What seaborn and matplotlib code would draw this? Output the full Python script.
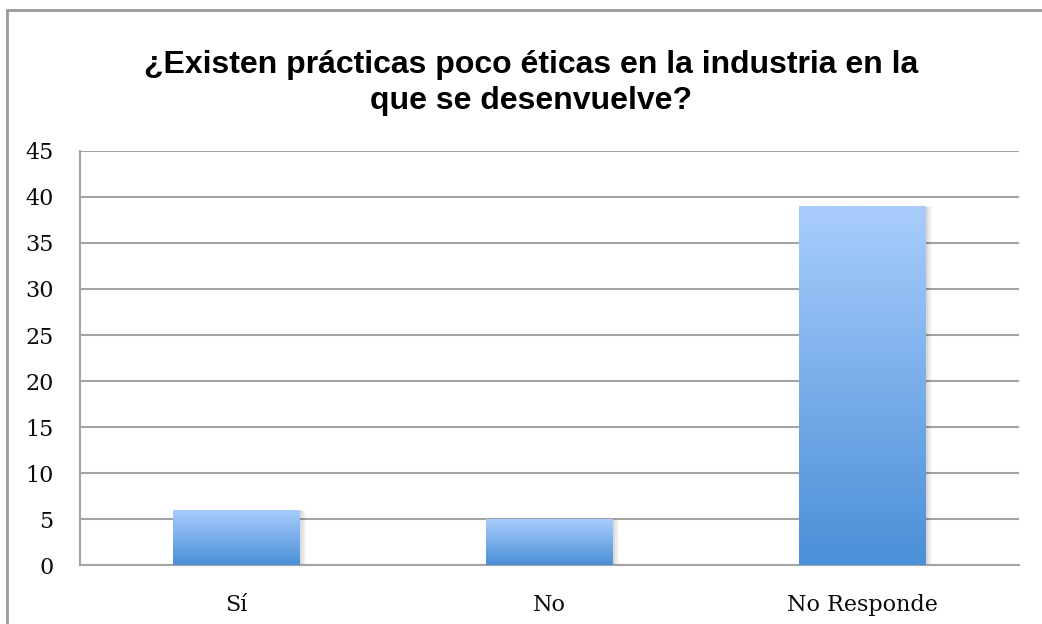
import numpy as np
import pandas as pd
import matplotlib
matplotlib.use("Agg")
import matplotlib.pyplot as plt
import seaborn as sns
from matplotlib.patches import Rectangle
from matplotlib.colors import LinearSegmentedColormap
from matplotlib.lines import Line2D

categories = ["Sí", "No", "No Responde"]
values = [6, 5, 39]
y_ticks = [0, 5, 10, 15, 20, 25, 30, 35, 40, 45]
title = "¿Existen prácticas poco éticas en la industria en la\nque se desenvuelve?"

df = pd.DataFrame({"cat": categories, "val": values})

sns.set_theme(style="white")
plt.rcParams['font.family'] = ['DejaVu Serif']

W, H = 1042, 624
fig = plt.figure(figsize=(W / 100, H / 100), dpi=100)
ax = fig.add_axes([80 / W, (H - 565) / H, (1019 - 80) / W, (565 - 151) / H])

grid_c = "#a3a3a3"
sns.barplot(data=df, x="cat", y="val", ax=ax, width=0.405, color="#7ab0ec",
            saturation=1, edgecolor="none", zorder=3)

ax.set_xlim(-0.5, 2.5)
ax.set_ylim(0, 45)
ax.set_yticks(y_ticks)
ax.set_yticklabels([str(t) for t in y_ticks], fontsize=16, color="#0a0a0a")
ax.set_xlabel("")
ax.set_ylabel("")
ax.tick_params(axis="x", labelsize=16, labelcolor="#0a0a0a", length=0, pad=21)
ax.tick_params(axis="y", length=8, width=1.5, color=grid_c, direction="out", pad=11)
ax.set_xticks([0.5, 1.5, 2.5], minor=True)
ax.tick_params(axis="x", which="minor", length=8, width=1.5, color=grid_c, direction="out")
ax.grid(axis="y", color=grid_c, linewidth=1.5, zorder=0)
ax.set_axisbelow(True)
for s in ["top", "right"]:
    ax.spines[s].set_visible(False)
for s in ["left", "bottom"]:
    ax.spines[s].set_color(grid_c)
    ax.spines[s].set_linewidth(1.5)

# gradient fill + soft shadow
cmap = LinearSegmentedColormap.from_list("g", ["#4a8fd7", "#a9cdfd"])
grad = np.linspace(0, 1, 256).reshape(-1, 1)
for p in list(ax.patches):
    x0, y0 = p.get_x(), p.get_y()
    w, h = p.get_width(), p.get_height()
    for k, a in [(0.06, 0.08), (0.04, 0.10), (0.02, 0.12)]:
        sh = Rectangle((x0 + k * 0.3, y0 - k * 2), w, h, facecolor="#000000",
                       alpha=a * 0.5, edgecolor="none", zorder=2)
        ax.add_patch(sh)
    im = ax.imshow(grad, extent=[x0, x0 + w, y0, y0 + h], origin="lower",
                   cmap=cmap, aspect="auto", zorder=4)
    im.set_clip_path(p)
ax.set_xlim(-0.5, 2.5)
ax.set_ylim(0, 45)

# outer chart border
fig.add_artist(Line2D([7 / W, 7 / W], [0, 1 - 10 / H], transform=fig.transFigure,
                      color="#9a9a9a", linewidth=2))
fig.add_artist(Line2D([7 / W, 1], [1 - 10 / H, 1 - 10 / H], transform=fig.transFigure,
                      color="#9a9a9a", linewidth=2))

fig.text(531 / W, 1 - 83 / H, title, ha="center", va="center", fontsize=23,
         fontweight="bold", family=["Liberation Sans", "DejaVu Sans"],
         color="#000000", linespacing=1.22)

fig.savefig("out.png", dpi=100, facecolor="white")
